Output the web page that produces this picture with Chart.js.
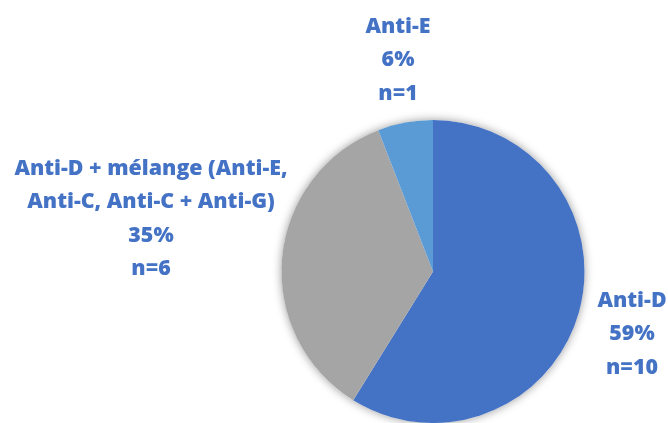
<!DOCTYPE html>
<html>
<head>
<meta charset="utf-8">
<script src="https://cdn.jsdelivr.net/npm/chart.js@4"></script>
<style>
  html, body { margin: 0; padding: 0; background: #ffffff; }
  #wrap { width: 668px; height: 423px; position: relative; }
</style>
</head>
<body>
<div id="wrap"><canvas id="c" width="668" height="423"></canvas></div>
<script>
// Antibody categories, patient counts and shares
const categories = ['Anti-D', 'Anti-D + mélange (Anti-E,\nAnti-C, Anti-C + Anti-G)', 'Anti-E'];
const counts = [10, 6, 1];
const percentLabels = ['59%', '35%', '6%'];
const sliceColors = ['#4472C4', '#A5A5A5', '#5B9BD5'];

// Where each label block sits (centre x, baseline of first line)
const labelPlacement = [
  { x: 632, y: 307 },
  { x: 151, y: 175 },
  { x: 398, y: 33 }
];

// Soft halo drawn under the pie
const pieShadow = {
  id: 'pieShadow',
  beforeDatasetsDraw(chart) {
    const arc = chart.getDatasetMeta(0).data[0];
    if (!arc) return;
    const ctx = chart.ctx;
    ctx.save();
    ctx.shadowColor = 'rgba(0,0,0,0.4)';
    ctx.shadowBlur = 10;
    ctx.fillStyle = '#ffffff';
    ctx.beginPath();
    ctx.arc(arc.x, arc.y, arc.outerRadius, 0, Math.PI * 2);
    ctx.fill();
    ctx.restore();
  }
};

// Category name, share and count written beside each slice
const sliceLabels = {
  id: 'sliceLabels',
  afterDatasetsDraw(chart) {
    const ctx = chart.ctx;
    ctx.save();
    ctx.fillStyle = '#4472C4';
    ctx.font = '800 21.4px "Open Sans"';
    ctx.textAlign = 'center';
    ctx.textBaseline = 'alphabetic';
    const lineH = 33.3;
    categories.forEach((name, i) => {
      const lines = name.split('\n').concat([percentLabels[i], 'n=' + counts[i]]);
      const p = labelPlacement[i];
      lines.forEach((t, k) => ctx.fillText(t, p.x, p.y + k * lineH));
    });
    ctx.restore();
  }
};

new Chart(document.getElementById('c'), {
  type: 'pie',
  data: {
    labels: categories,
    datasets: [{
      data: counts,
      backgroundColor: sliceColors,
      borderWidth: 0
    }]
  },
  options: {
    responsive: false,
    animation: false,
    layout: { padding: { left: 281, right: 83, top: 120, bottom: 0 } },
    plugins: {
      legend: { display: false },
      tooltip: { enabled: false }
    }
  },
  plugins: [pieShadow, sliceLabels]
});
</script>
</body>
</html>
